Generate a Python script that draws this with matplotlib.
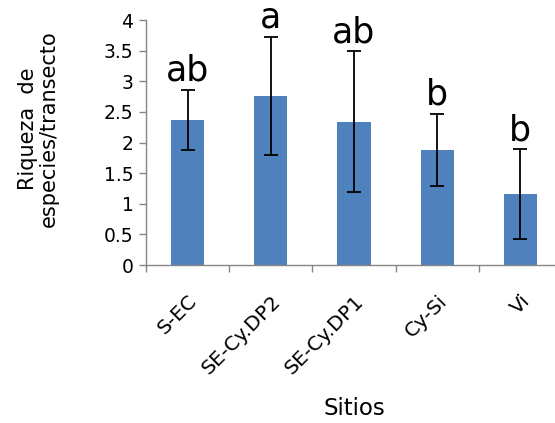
import matplotlib.pyplot as plt
import numpy as np

sitios = ['S-EC', 'SE-Cy.DP2', 'SE-Cy.DP1', 'Cy-Si', 'Vi']
riqueza = [2.37, 2.76, 2.34, 1.88, 1.16]
error = [0.49, 0.97, 1.15, 0.59, 0.73]
letras = ['ab', 'a', 'ab', 'b', 'b']

plt.rcParams['font.family'] = 'DejaVu Sans'
gris = '#868686'

fig = plt.figure(figsize=(5.55, 4.23), dpi=100)
ax = fig.add_axes([0.263, 0.3735, 0.7496, 0.5792])

x = np.arange(len(sitios))
ax.bar(x, riqueza, width=0.4, color='#4F81BD', zorder=2)
ax.errorbar(x, riqueza, yerr=error, fmt='none', ecolor='black',
            elinewidth=1.3, capsize=5, capthick=1.3, zorder=3)

# letras de significancia sobre cada barra
for xi, m, e, l in zip(x, riqueza, error, letras):
    ax.annotate(l, (xi, m + e), xytext=(0, 6.5), textcoords='offset points',
                ha='center', va='baseline', fontsize=25)

ax.set_xlim(-0.5, len(sitios) - 0.5)
ax.set_ylim(0, 4)
ax.set_yticks(np.arange(0, 4.01, 0.5))
ax.set_yticklabels(['0', '0.5', '1', '1.5', '2', '2.5', '3', '3.5', '4'])

ax.set_xticks(x)
ax.set_xticklabels(sitios, rotation=45, ha='right', rotation_mode='anchor')
ax.set_xticks(np.arange(-0.5, len(sitios), 1), minor=True)
ax.tick_params(axis='x', which='major', length=0, pad=19, labelsize=14.5)
ax.tick_params(axis='x', which='minor', length=5, color=gris, width=1)
ax.tick_params(axis='y', length=5, color=gris, width=1, labelsize=13.5, pad=4)

for s in ['top', 'right']:
    ax.spines[s].set_visible(False)
for s in ['left', 'bottom']:
    ax.spines[s].set_color(gris)
    ax.spines[s].set_linewidth(1)

ax.set_ylabel('Riqueza  de\nespecies/transecto', fontsize=15, linespacing=1.05)
ax.yaxis.set_label_coords(-0.21, 0.555)
ax.set_xlabel('Sitios', fontsize=16.5)
ax.xaxis.set_label_coords(0.502, -0.54)

fig.savefig('out.png', dpi=100)
